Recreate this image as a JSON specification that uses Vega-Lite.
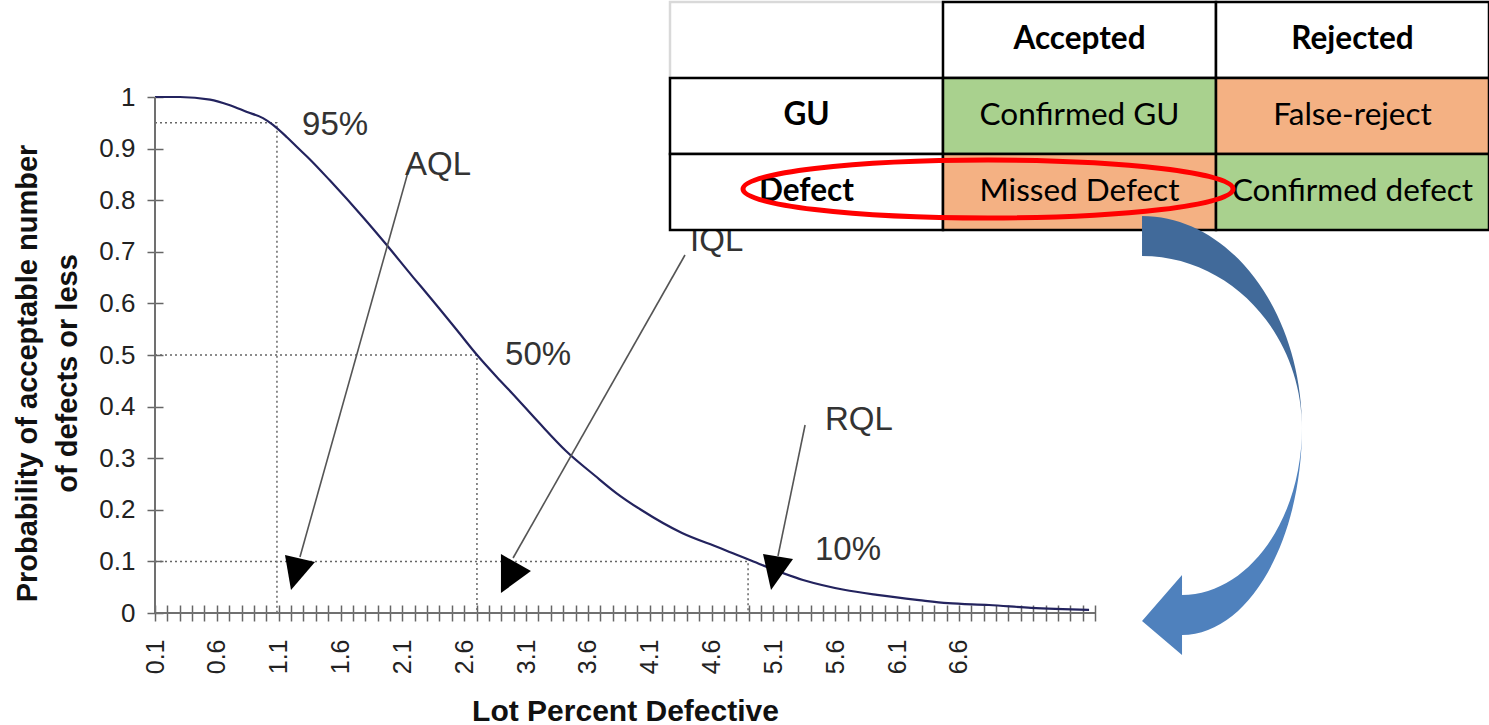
{
  "$schema": "https://vega.github.io/schema/vega-lite/v6.json",
  "width": 940,
  "height": 516,
  "autosize": "none",
  "padding": {"left": 155, "top": 97, "right": 394, "bottom": 112},
  "background": "white",
  "config": {"view": {"stroke": null}, "font": "Liberation Sans"},
  "datasets": {
    "curve": [
      {"defective": 0.1, "probability": 1.0},
      {"defective": 0.302, "probability": 1.0},
      {"defective": 0.545, "probability": 0.995},
      {"defective": 0.706, "probability": 0.984},
      {"defective": 0.844, "probability": 0.971},
      {"defective": 0.973, "probability": 0.959},
      {"defective": 1.054, "probability": 0.946},
      {"defective": 1.167, "probability": 0.922},
      {"defective": 1.248, "probability": 0.903},
      {"defective": 1.353, "probability": 0.879},
      {"defective": 1.515, "probability": 0.838},
      {"defective": 1.782, "probability": 0.767},
      {"defective": 1.96, "probability": 0.717},
      {"defective": 2.186, "probability": 0.651},
      {"defective": 2.323, "probability": 0.612},
      {"defective": 2.542, "probability": 0.548},
      {"defective": 2.704, "probability": 0.5},
      {"defective": 2.865, "probability": 0.457},
      {"defective": 2.987, "probability": 0.426},
      {"defective": 3.2, "probability": 0.37},
      {"defective": 3.423, "probability": 0.314},
      {"defective": 3.658, "probability": 0.266},
      {"defective": 3.827, "probability": 0.233},
      {"defective": 4.029, "probability": 0.2},
      {"defective": 4.361, "probability": 0.155},
      {"defective": 4.668, "probability": 0.126},
      {"defective": 4.903, "probability": 0.103},
      {"defective": 5.339, "probability": 0.064},
      {"defective": 5.671, "probability": 0.045},
      {"defective": 5.938, "probability": 0.035},
      {"defective": 6.277, "probability": 0.025},
      {"defective": 6.512, "probability": 0.019},
      {"defective": 6.843, "probability": 0.0155},
      {"defective": 7.183, "probability": 0.01},
      {"defective": 7.652, "probability": 0.006}
    ],
    "refs": [
      {"guide": "95%", "step": 1, "defective": 0.1, "probability": 0.95},
      {"guide": "95%", "step": 2, "defective": 1.086, "probability": 0.95},
      {"guide": "95%", "step": 3, "defective": 1.086, "probability": 0},
      {"guide": "50%", "step": 1, "defective": 0.1, "probability": 0.5},
      {"guide": "50%", "step": 2, "defective": 2.703, "probability": 0.5},
      {"guide": "50%", "step": 3, "defective": 2.703, "probability": 0},
      {"guide": "10%", "step": 1, "defective": 0.1, "probability": 0.1},
      {"guide": "10%", "step": 2, "defective": 4.895, "probability": 0.1},
      {"guide": "10%", "step": 3, "defective": 4.895, "probability": 0}
    ],
    "axislines": [
      {"line": "y", "step": 1, "defective": 0.1, "probability": 1},
      {"line": "y", "step": 2, "defective": 0.1, "probability": 0},
      {"line": "x", "step": 1, "defective": 0.1, "probability": 0},
      {"line": "x", "step": 2, "defective": 7.7, "probability": 0}
    ],
    "labels": [
      {"defective": 1.289, "probability": 0.946, "text": "95%"},
      {"defective": 2.121, "probability": 0.868, "text": "AQL"},
      {"defective": 4.426, "probability": 0.721, "text": "IQL"},
      {"defective": 2.93, "probability": 0.5, "text": "50%"},
      {"defective": 5.517, "probability": 0.374, "text": "RQL"},
      {"defective": 5.436, "probability": 0.122, "text": "10%"}
    ],
    "leaders": [
      {"name": "AQL", "step": 1, "defective": 2.146, "probability": 0.8547},
      {"name": "AQL", "step": 2, "defective": 1.272, "probability": 0.1085},
      {"name": "IQL", "step": 1, "defective": 4.385, "probability": 0.6938},
      {"name": "IQL", "step": 2, "defective": 2.995, "probability": 0.1066},
      {"name": "RQL", "step": 1, "defective": 5.356, "probability": 0.3643},
      {"name": "RQL", "step": 2, "defective": 5.137, "probability": 0.1105}
    ],
    "heads": [
      {"name": "AQL", "defective": 1.248, "probability": 0.0853},
      {"name": "IQL", "defective": 2.978, "probability": 0.0775},
      {"name": "RQL", "defective": 5.121, "probability": 0.0872}
    ],
    "table": [
      {"row": "head", "col": "corner", "text": "", "kind": "corner"},
      {"row": "head", "col": "Accepted", "text": "Accepted", "kind": "head"},
      {"row": "head", "col": "Rejected", "text": "Rejected", "kind": "head"},
      {"row": "GU", "col": "corner", "text": "GU", "kind": "head"},
      {"row": "GU", "col": "Accepted", "text": "Confirmed GU", "kind": "ok"},
      {"row": "GU", "col": "Rejected", "text": "False-reject", "kind": "bad"},
      {"row": "Defect", "col": "corner", "text": "Defect", "kind": "head"},
      {"row": "Defect", "col": "Accepted", "text": "Missed Defect", "kind": "bad"},
      {"row": "Defect", "col": "Rejected", "text": "Confirmed defect", "kind": "ok"}
    ],
    "ellipse": [
      {"defective": 6.835, "probability": 0.8217}
    ],
    "arrow": [
      {"part": "upper", "defective": 8.727, "probability": 0.345},
      {"part": "lower", "defective": 8.727, "probability": 0.345}
    ]
  },
  "layer": [
    {
      "layer": [
        {
          "data": {"name": "refs"},
          "mark": {"type": "line", "strokeDash": [2, 3], "color": "#666666", "strokeWidth": 1.5},
          "encoding": {
            "x": {"field": "defective", "type": "quantitative"},
            "y": {"field": "probability", "type": "quantitative"},
            "detail": {"field": "guide", "type": "nominal"},
            "order": {"field": "step", "type": "quantitative"}
          }
        },
        {
          "data": {"name": "curve"},
          "mark": {"type": "line", "color": "#23235e", "strokeWidth": 2.2, "interpolate": "monotone"},
          "encoding": {
            "x": {
              "field": "defective", "type": "quantitative",
              "scale": {"domain": [0.1, 7.7], "nice": false, "zero": false},
              "axis": {
                "title": "Lot Percent Defective",
                "titleFont": "Liberation Sans", "titleFontSize": 30, "titleFontWeight": "bold", "titleColor": "#111111",
                "titleBaseline": "middle", "titleY": 106,
                "tickCount": 200,
                "values": [0.1,0.2,0.3,0.4,0.5,0.6,0.7,0.8,0.9,1,1.1,1.2,1.3,1.4,1.5,1.6,1.7,1.8,1.9,2,2.1,2.2,2.3,2.4,2.5,2.6,2.7,2.8,2.9,3,3.1,3.2,3.3,3.4,3.5,3.6,3.7,3.8,3.9,4,4.1,4.2,4.3,4.4,4.5,4.6,4.7,4.8,4.9,5,5.1,5.2,5.3,5.4,5.5,5.6,5.7,5.8,5.9,6,6.1,6.2,6.3,6.4,6.5,6.6,6.7,6.8,6.9,7,7.1,7.2,7.3,7.4,7.5,7.6,7.7],
                "labelExpr": "indexof([0.1,0.6,1.1,1.6,2.1,2.6,3.1,3.6,4.1,4.6,5.1,5.6,6.1,6.6], datum.value) >= 0 ? format(datum.value, '.1f') : ''",
                "labelAngle": -90, "labelAlign": "right", "labelBaseline": "middle",
                "labelFontSize": 25, "labelColor": "#222222", "labelPadding": 18,
                "labelOverlap": false, "labelBound": false, "labelFlush": false,
                "grid": false, "domain": false, "offset": -8,
                "tickSize": 16, "tickColor": "#666666", "tickWidth": 1.5
              }
            },
            "y": {
              "field": "probability", "type": "quantitative",
              "scale": {"domain": [0, 1], "nice": false, "zero": false},
              "axis": {
                "title": ["Probability of acceptable number", "of defects or less"],
                "titleFont": "Liberation Sans", "titleFontSize": 29, "titleFontWeight": "bold", "titleColor": "#111111",
                "titleLineHeight": 40, "titleBaseline": "middle", "titleX": -136, "titleY": 276,
                "tickCount": 50,
                "values": [0, 0.1, 0.2, 0.3, 0.4, 0.5, 0.6, 0.7, 0.8, 0.9, 1],
                "format": "~g",
                "labelFontSize": 26, "labelColor": "#222222", "labelPadding": 12,
                "labelOverlap": false, "labelBound": false, "labelFlush": false,
                "grid": false, "domain": false, "offset": -8,
                "tickSize": 16, "tickColor": "#666666", "tickWidth": 1.5
              }
            }
          }
        },
        {
          "data": {"name": "axislines"},
          "mark": {"type": "line", "color": "#707070", "strokeWidth": 2},
          "encoding": {
            "x": {"field": "defective", "type": "quantitative"},
            "y": {"field": "probability", "type": "quantitative"},
            "detail": {"field": "line", "type": "nominal"},
            "order": {"field": "step", "type": "quantitative"}
          }
        },
        {
          "data": {"name": "leaders"},
          "mark": {"type": "line", "color": "#555555", "strokeWidth": 1.6},
          "encoding": {
            "x": {"field": "defective", "type": "quantitative"},
            "y": {"field": "probability", "type": "quantitative"},
            "detail": {"field": "name", "type": "nominal"},
            "order": {"field": "step", "type": "quantitative"}
          }
        },
        {
          "data": {"name": "heads"},
          "mark": {"type": "point", "filled": true, "color": "black", "opacity": 1, "size": 1600, "strokeWidth": 0},
          "encoding": {
            "x": {"field": "defective", "type": "quantitative"},
            "y": {"field": "probability", "type": "quantitative"},
            "shape": {
              "field": "name", "type": "nominal", "legend": null,
              "scale": {
                "domain": ["AQL", "IQL", "RQL"],
                "range": [
                  "M -0.6 -0.7 L 0.9 -0.35 L -0.3 1.05 Z",
                  "M -0.5 -0.95 L 1.0 -0.1 L -0.5 1.0 Z",
                  "M -0.65 -0.7 L 0.85 -0.45 L -0.25 1.1 Z"
                ]
              }
            }
          }
        },
        {
          "data": {"name": "labels"},
          "mark": {"type": "text", "align": "left", "baseline": "middle", "fontSize": 33, "color": "#333333", "font": "Liberation Sans"},
          "encoding": {
            "x": {"field": "defective", "type": "quantitative"},
            "y": {"field": "probability", "type": "quantitative"},
            "text": {"field": "text", "type": "nominal"}
          }
        }
      ]
    },
    {
      "data": {"name": "table"},
      "layer": [
        {
          "mark": {"type": "rect", "strokeWidth": 2.5},
          "encoding": {
            "x": {"field": "col", "type": "nominal", "axis": null,
                  "scale": {"type": "band", "domain": ["corner", "Accepted", "Rejected"], "range": [515, 1334], "paddingInner": 0, "paddingOuter": 0}},
            "y": {"field": "row", "type": "nominal", "axis": null,
                  "scale": {"type": "band", "domain": ["head", "GU", "Defect"], "range": [-95, 133], "paddingInner": 0, "paddingOuter": 0}},
            "fill": {"field": "kind", "type": "nominal", "legend": null,
                     "scale": {"domain": ["corner", "head", "ok", "bad"], "range": ["#ffffff", "#ffffff", "#a9d18e", "#f4b183"]}},
            "stroke": {"condition": {"test": "datum.kind === 'corner'", "value": "#d9d9d9"}, "value": "#000000"}
          }
        },
        {
          "transform": [{"filter": "datum.kind === 'head'"}],
          "mark": {"type": "text", "font": "Lato", "fontWeight": "bold", "fontSize": 31.5, "color": "#000000", "align": "center", "baseline": "middle"},
          "encoding": {
            "x": {"field": "col", "type": "nominal"},
            "y": {"field": "row", "type": "nominal"},
            "text": {"field": "text", "type": "nominal"}
          }
        },
        {
          "transform": [{"filter": "datum.kind === 'ok' || datum.kind === 'bad'"}],
          "mark": {"type": "text", "font": "Lato", "fontSize": 31.5, "color": "#000000", "align": "center", "baseline": "middle"},
          "encoding": {
            "x": {"field": "col", "type": "nominal"},
            "y": {"field": "row", "type": "nominal"},
            "text": {"field": "text", "type": "nominal"}
          }
        }
      ]
    },
    {
      "layer": [
        {
          "data": {"name": "ellipse"},
          "mark": {
            "type": "point", "filled": false, "color": "#ff0000", "opacity": 1, "strokeWidth": 5, "size": 240100,
            "shape": "M -1 0 C -1 -0.0654 -0.5523 -0.1184 0 -0.1184 C 0.5523 -0.1184 1 -0.0654 1 0 C 1 0.0654 0.5523 0.1184 0 0.1184 C -0.5523 0.1184 -1 0.0654 -1 0 Z"
          },
          "encoding": {
            "x": {"field": "defective", "type": "quantitative", "axis": null, "scale": {"domain": [0.1, 7.7], "nice": false, "zero": false}},
            "y": {"field": "probability", "type": "quantitative", "axis": null, "scale": {"domain": [0, 1], "nice": false, "zero": false}}
          }
        },
        {
          "data": {"name": "arrow"},
          "transform": [{"filter": "datum.part === 'upper'"}],
          "mark": {"type": "point", "filled": true, "opacity": 1, "strokeWidth": 0, "size": 193600, "color": "#416a9a",
                   "shape": "M -0.3636 -0.9955 C 0.0364 -0.9955 0.3636 -0.5636 0.3636 -0.0264 C 0.3636 -0.4636 0.0364 -0.8136 -0.3636 -0.8136 Z"},
          "encoding": {
            "x": {"field": "defective", "type": "quantitative"},
            "y": {"field": "probability", "type": "quantitative"}
          }
        },
        {
          "data": {"name": "arrow"},
          "transform": [{"filter": "datum.part === 'lower'"}],
          "mark": {"type": "point", "filled": true, "opacity": 1, "strokeWidth": 0, "size": 193600, "color": "#4f81bd",
                   "shape": "M 0.3636 -0.0364 C 0.3636 0.4864 0.1182 0.9091 -0.1818 0.9091 L -0.1818 1.0 L -0.3636 0.8455 L -0.1818 0.6364 L -0.1818 0.7273 C 0.1182 0.7273 0.3636 0.3864 0.3636 -0.0364 Z"},
          "encoding": {
            "x": {"field": "defective", "type": "quantitative"},
            "y": {"field": "probability", "type": "quantitative"}
          }
        }
      ]
    }
  ],
  "resolve": {
    "scale": {"x": "independent", "y": "independent"},
    "axis": {"x": "independent", "y": "independent"}
  }
}
